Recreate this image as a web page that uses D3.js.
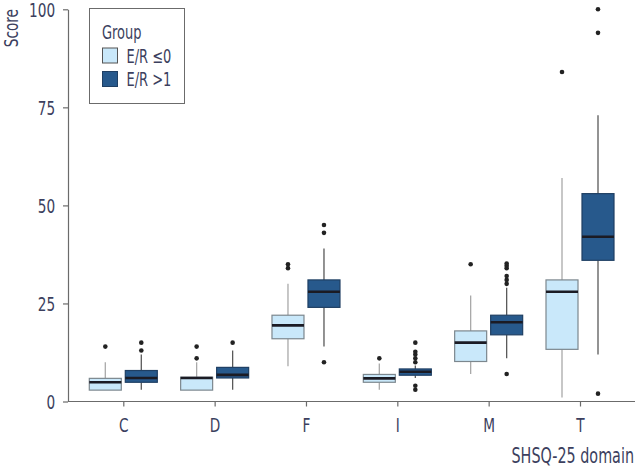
<!DOCTYPE html>
<html>
<head>
<meta charset="utf-8">
<script src="https://cdn.jsdelivr.net/npm/d3@7"></script>
<style>
  body { margin: 0; background: #fff; }
  text { font-family: "DejaVu Sans", sans-serif; font-stretch: condensed; fill: #3c3f5e; }
</style>
</head>
<body>
<div id="chart"></div>
<script>
// box plot stats
const categories = ["C", "D", "F", "I", "M", "T"];
const groups = ["E/R \u22640", "E/R >1"];

// group E/R <=0
const lowQ1 = [2.9, 2.9, 16, 4.9, 10.2, 13.3];
const lowMedian = [4.9, 6, 19.4, 5.9, 15, 28];
const lowQ3 = [5.9, 6.2, 22, 6.9, 18, 31];
const lowMin = [2.9, 2.9, 9, 3, 7, 1];
const lowMax = [10, 10, 30, 9.7, 27, 57];
const lowOut = [[14], [11, 14], [34, 35], [11], [35], [84]];

// group E/R >1
const highQ1 = [4.9, 6, 24, 6.7, 17, 36];
const highMedian = [6, 6.8, 28, 7.6, 20.2, 42];
const highQ3 = [7.9, 8.7, 31, 8.3, 22, 53];
const highMin = [3, 3, 14, 6, 11, 12];
const highMax = [12, 13, 39, 9.2, 29, 73];
const highOut = [[13, 15], [15], [10, 43, 45], [3, 4, 10, 11, 12, 12.7, 15], [7, 30, 31, 32, 34, 34.6, 35.2], [2, 94, 100]];

const yTicks = [0, 25, 50, 75, 100];

const width = 635;
const height = 468;
const squeeze = 0.76; // the original font is a narrow one

const svg = d3.select("#chart")
  .append("svg")
  .attr("width", width)
  .attr("height", height);

const y = d3.scaleLinear()
  .domain([0, 100])
  .range([401.5, 9.3]);

const x = d3.scalePoint()
  .domain(categories)
  .range([123.3, 580]);

const xSub = d3.scaleBand()
  .domain(groups)
  .range([-34, 34])
  .paddingInner(0.111);

const fills = ["#c9e8fa", "#27598c"];
const strokes = ["#7c878e", "#1f3f63"];
const whiskerColors = ["#a9a9a9", "#595959"];

const series = [
  { q1: lowQ1, med: lowMedian, q3: lowQ3, lo: lowMin, hi: lowMax, out: lowOut },
  { q1: highQ1, med: highMedian, q3: highQ3, lo: highMin, hi: highMax, out: highOut }
];

// narrow text helper
function narrowText(parent, tx, ty, str, size, anchor, rot) {
  return parent.append("text")
    .attr("transform", `translate(${tx},${ty})` + (rot ? ` rotate(${rot})` : "") + ` scale(${squeeze},1)`)
    .attr("text-anchor", anchor || "start")
    .style("font-size", size + "px")
    .text(str);
}

// axes
const yAxis = svg.append("g")
  .attr("transform", "translate(68,0)")
  .call(d3.axisLeft(y).tickValues(yTicks).tickSize(5).tickSizeOuter(0).tickPadding(12));

const xAxis = svg.append("g")
  .attr("transform", `translate(0,${y(0)})`)
  .call(d3.axisBottom(x).tickSize(5).tickSizeOuter(0).tickPadding(11));

xAxis.select(".domain").remove();
xAxis.append("line")
  .attr("x1", 68)
  .attr("x2", 635)
  .attr("stroke", "#6b6b6b")
  .attr("stroke-width", 1.2);

svg.selectAll(".tick line").attr("stroke", "#6b6b6b").attr("stroke-width", 1.2);
yAxis.select(".domain").attr("stroke", "#6b6b6b").attr("stroke-width", 1.2);
svg.selectAll(".tick text")
  .attr("fill", "#3c3f5e")
  .attr("transform", `scale(${squeeze},1)`)
  .style("font-size", "20px")
  .style("font-family", "'DejaVu Sans', sans-serif")
  .style("font-stretch", "condensed");
yAxis.selectAll(".tick text").attr("dy", "0.36em");

// boxes
series.forEach((s, gi) => {
  const g = svg.append("g");
  categories.forEach((c, i) => {
    const x0 = x(c) + xSub(groups[gi]);
    const bw = xSub.bandwidth();
    const cx = x0 + bw / 2;

    g.append("line")
      .attr("x1", cx).attr("x2", cx)
      .attr("y1", y(s.q3[i])).attr("y2", y(s.hi[i]))
      .attr("stroke", whiskerColors[gi]).attr("stroke-width", 1.3);
    g.append("line")
      .attr("x1", cx).attr("x2", cx)
      .attr("y1", y(s.q1[i])).attr("y2", y(s.lo[i]))
      .attr("stroke", whiskerColors[gi]).attr("stroke-width", 1.3);

    g.append("rect")
      .attr("x", x0)
      .attr("y", y(s.q3[i]))
      .attr("width", bw)
      .attr("height", y(s.q1[i]) - y(s.q3[i]))
      .attr("fill", fills[gi])
      .attr("stroke", strokes[gi])
      .attr("stroke-width", 1.2);

    g.append("line")
      .attr("x1", x0).attr("x2", x0 + bw)
      .attr("y1", y(s.med[i])).attr("y2", y(s.med[i]))
      .attr("stroke", "#1b1b24").attr("stroke-width", 2.6);

    g.selectAll(null)
      .data(s.out[i])
      .enter()
      .append("circle")
      .attr("cx", cx)
      .attr("cy", d => y(d))
      .attr("r", 2.3)
      .attr("fill", "#222");
  });
});

// axis titles
narrowText(svg, 18, 9, "Score", 20, "end", -90);
narrowText(svg, 634, 463, "SHSQ-25 domain", 21, "end");

// legend
const legend = svg.append("g");
legend.append("rect")
  .attr("x", 89.5).attr("y", 8.5)
  .attr("width", 95).attr("height", 95)
  .attr("fill", "#fff")
  .attr("stroke", "#6b6b6b")
  .attr("stroke-width", 1);

narrowText(legend, 102, 39, "Group", 19);

groups.forEach((gname, gi) => {
  const ly = 48 + gi * 23.5;
  legend.append("rect")
    .attr("x", 102.5).attr("y", ly)
    .attr("width", 15).attr("height", 15)
    .attr("fill", fills[gi])
    .attr("stroke", gi === 0 ? "#555" : "#1f3f63")
    .attr("stroke-width", 1);
  narrowText(legend, 126.5, ly + 14.5, gname, 19);
});
</script>
</body>
</html>
